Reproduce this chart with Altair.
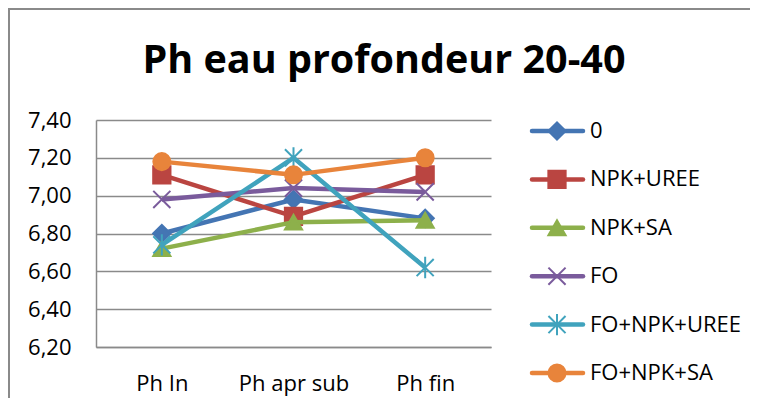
import altair as alt
import pandas as pd

categories = ["Ph In", "Ph apr sub", "Ph fin"]
series = ["0", "NPK+UREE", "NPK+SA", "FO", "FO+NPK+UREE", "FO+NPK+SA"]
v_0 = [6.80, 6.98, 6.88]
v_npk_uree = [7.11, 6.89, 7.11]
v_npk_sa = [6.72, 6.86, 6.87]
v_fo = [6.98, 7.04, 7.02]
v_fo_npk_uree = [6.74, 7.20, 6.62]
v_fo_npk_sa = [7.18, 7.11, 7.20]
y_ticks = [6.2, 6.4, 6.6, 6.8, 7.0, 7.2, 7.4]
title_text = "Ph eau profondeur 20-40"

colors = ["#4475B3", "#BA4541", "#8DB04B", "#7A5B9C", "#40A3BD", "#E8843B"]
shapes = ["diamond", "square", "triangle-up",
          "M-1,-1L1,1M-1,1L1,-1",
          "M-1,-1L1,1M-1,1L1,-1M0,-1.25L0,1.25",
          "circle"]
sizes = [300, 290, 330, 300, 300, 330]

all_vals = [v_0, v_npk_uree, v_npk_sa, v_fo, v_fo_npk_uree, v_fo_npk_sa]
rows = []
for s, vals in zip(series, all_vals):
    for c, v in zip(categories, vals):
        rows.append({"series": s, "category": c, "value": v})
df = pd.DataFrame(rows)
leg_df = pd.DataFrame({"series": series})

FONT = "Open Sans"
GRID = "#8a8a8a"
FS = 22

color_scale = alt.Scale(domain=series, range=colors)
shape_scale = alt.Scale(domain=series, range=shapes)
size_scale = alt.Scale(domain=series, range=sizes)

x_enc = alt.X(
    "category:N",
    scale=alt.Scale(type="point", domain=categories, padding=0.5),
    axis=alt.Axis(title=None, labelAngle=0, labelFont=FONT, labelFontSize=FS,
                  labelColor="black", ticks=False, domainColor=GRID,
                  domainWidth=1.5, labelPadding=26, grid=False),
)
y_enc = alt.Y(
    "value:Q",
    scale=alt.Scale(domain=[6.2, 7.4], nice=False, zero=False),
    axis=alt.Axis(title=None, values=y_ticks, ticks=False,
                  labelExpr="replace(format(datum.value, '.2f'), '.', ',')",
                  labelFont=FONT, labelFontSize=FS, labelColor="black",
                  labelPadding=25, grid=True, gridColor=GRID, gridWidth=1.5,
                  domainColor=GRID, domainWidth=1.5),
)

main_layers = []
for s in series:
    sub = alt.Chart(df).transform_filter(alt.datum.series == s)
    line = sub.mark_line(strokeWidth=4.5).encode(
        x=x_enc, y=y_enc,
        color=alt.Color("series:N", scale=color_scale, legend=None),
    )
    pts = sub.mark_point(filled=True, strokeWidth=2, opacity=1).encode(
        x=x_enc, y=y_enc,
        fill=alt.Fill("series:N", scale=color_scale, legend=None),
        stroke=alt.Stroke("series:N", scale=color_scale, legend=None),
        shape=alt.Shape("series:N", scale=shape_scale, legend=None),
        size=alt.Size("series:N", scale=size_scale, legend=None),
    )
    main_layers += [line, pts]
main = alt.layer(*main_layers)

leg_y = alt.Y("series:N", scale=alt.Scale(type="point", domain=series,
                                          range=[11, 253], padding=0),
              axis=None)
leg_base = alt.Chart(leg_df)
leg_rule = leg_base.mark_rule(strokeWidth=4.5, strokeCap="round").encode(
    x=alt.value(436), x2=alt.value(487), y=leg_y,
    color=alt.Color("series:N", scale=color_scale, legend=None),
)
leg_pts = leg_base.mark_point(filled=True, strokeWidth=2, opacity=1).encode(
    x=alt.value(461), y=leg_y,
    fill=alt.Fill("series:N", scale=color_scale, legend=None),
    stroke=alt.Stroke("series:N", scale=color_scale, legend=None),
    shape=alt.Shape("series:N", scale=shape_scale, legend=None),
    size=alt.Size("series:N", scale=size_scale, legend=None),
)
leg_txt = leg_base.mark_text(align="left", baseline="middle", font=FONT,
                             fontSize=FS, color="black").encode(
    x=alt.value(494), y=leg_y, text="series:N",
)
legend = alt.layer(leg_rule, leg_pts, leg_txt)

title_layer = alt.Chart(pd.DataFrame({"t": [title_text]})).mark_text(
    font=FONT, fontSize=39.5, fontWeight="bold", align="center",
    baseline="alphabetic", color="black",
).encode(x=alt.value(288), y=alt.value(-47), text="t:N")

border_df = pd.DataFrame({"b": [1]})
border_left = alt.Chart(border_df).mark_rule(color="#8a8a8a", strokeWidth=2).encode(
    x=alt.value(-87), y=alt.value(-111), y2=alt.value(290))
border_top = alt.Chart(border_df).mark_rule(color="#8a8a8a", strokeWidth=2).encode(
    x=alt.value(-88), x2=alt.value(670), y=alt.value(-111))

chart = alt.layer(main, legend, title_layer, border_left, border_top).resolve_scale(
    y="independent"
).properties(
    width=395, height=227,
    autosize=alt.AutoSizeParams(type="none"),
    padding={"left": 88, "top": 112, "right": 259, "bottom": 51},
).configure_view(strokeWidth=0)

chart.save("out.html", embed_options={"renderer": "svg", "actions": False})
